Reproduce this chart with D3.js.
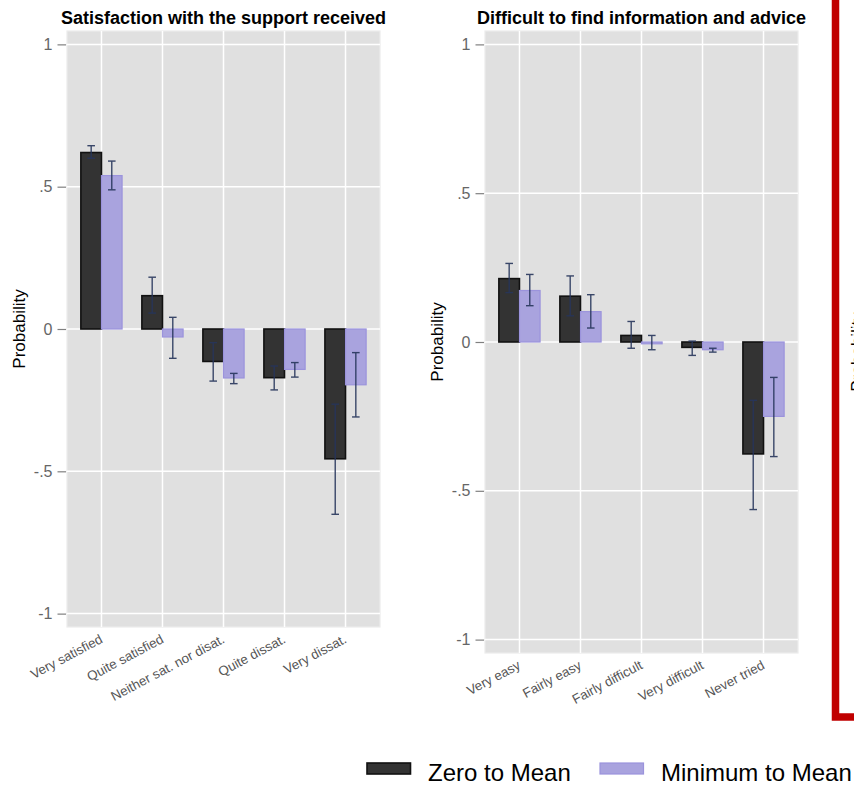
<!DOCTYPE html>
<html>
<head>
<meta charset="utf-8">
<script src="https://cdn.jsdelivr.net/npm/d3@7"></script>
<style>
  html, body { margin: 0; padding: 0; background: #ffffff; }
  svg { display: block; font-family: "Liberation Sans", Arial, Helvetica, sans-serif; }
</style>
</head>
<body>
<svg id="chart" width="854" height="787"></svg>
<script>
// ---------- Data ----------
const seriesNames = ["Zero to Mean", "Minimum to Mean"];
const yTickValues = [-1, -0.5, 0, 0.5, 1];
const yTickLabels = ["-1", "-.5", "0", ".5", "1"];

// Panel 1: Satisfaction with the support received
const titleSat = "Satisfaction with the support received";
const categoriesSat = ["Very satisfied", "Quite satisfied", "Neither sat. nor disat.", "Quite dissat.", "Very dissat."];
const zeroSat   = [0.620, 0.117, -0.114, -0.171, -0.456];
const zeroSatLo = [0.600, 0.056, -0.183, -0.214, -0.651];
const zeroSatHi = [0.644, 0.182, -0.048, -0.130, -0.264];
const minSat    = [0.539, -0.028, -0.172, -0.142, -0.196];
const minSatLo  = [0.489, -0.103, -0.192, -0.169, -0.309];
const minSatHi  = [0.590, 0.041, -0.156, -0.118, -0.083];

// Panel 2: Difficult to find information and advice
const titleInfo = "Difficult to find information and advice";
const categoriesInfo = ["Very easy", "Fairly easy", "Fairly difficult", "Very difficult", "Never tried"];
const zeroInfo   = [0.213, 0.154, 0.022, -0.018, -0.376];
const zeroInfoLo = [0.166, 0.088, -0.021, -0.045, -0.563];
const zeroInfoHi = [0.264, 0.222, 0.069, 0.003, -0.196];
const minInfo    = [0.173, 0.102, -0.006, -0.026, -0.250];
const minInfoLo  = [0.122, 0.047, -0.026, -0.034, -0.385];
const minInfoHi  = [0.227, 0.159, 0.022, -0.021, -0.119];

// ---------- Styles ----------
const fills   = ["#333333", "#a9a3de"];
const strokes = ["#111111", "#9b93dc"];
const errColor = "#27365c";

const svg = d3.select("#chart");
svg.append("rect").attr("width", 854).attr("height", 787).attr("fill", "#ffffff");

function panel(opts) {
  const { left, right, top, bottom, domainPad, title, cats, zero, zeroLo, zeroHi, mn, mnLo, mnHi } = opts;
  const g = svg.append("g");

  const x = d3.scalePoint().domain(cats).range([left, right]).padding(0.565);
  const xs = d3.scaleBand().domain(seriesNames).range([-20.6, 20.6]).padding(0);
  const y = d3.scaleLinear().domain([-domainPad, domainPad]).range([bottom, top]);

  // background
  g.append("rect")
    .attr("x", left).attr("y", top)
    .attr("width", right - left).attr("height", bottom - top)
    .attr("fill", "#e0e0e0").attr("stroke", "#ececec").attr("stroke-width", 1.2);

  // grid
  g.selectAll(".hg").data(yTickValues).enter().append("line")
    .attr("x1", left).attr("x2", right)
    .attr("y1", d => y(d)).attr("y2", d => y(d))
    .attr("stroke", "#ffffff").attr("stroke-width", 1.5);
  g.selectAll(".vg").data(cats).enter().append("line")
    .attr("x1", d => x(d)).attr("x2", d => x(d))
    .attr("y1", top).attr("y2", bottom)
    .attr("stroke", "#ffffff").attr("stroke-width", 1.5);

  // y axis
  const yAxis = d3.axisLeft(y).tickValues(yTickValues)
    .tickFormat((d, i) => yTickLabels[i]).tickSizeInner(8.5).tickSizeOuter(0).tickPadding(5);
  const ya = g.append("g").attr("transform", `translate(${left - 1},0)`).call(yAxis);
  ya.select(".domain").remove();
  ya.selectAll(".tick line").attr("stroke", "#808080").attr("stroke-width", 1.2);
  ya.selectAll(".tick text").attr("fill", "#666666").style("font-size", "16px")
    .style("font-family", "'Liberation Sans', Arial, sans-serif");

  // y label
  g.append("text")
    .attr("transform", `translate(${left - 42},${(top + bottom) / 2}) rotate(-90)`)
    .attr("text-anchor", "middle")
    .style("font-size", "17px").attr("fill", "#000")
    .text("Probability");

  // title
  g.append("text")
    .attr("x", (left + right) / 2).attr("y", 24)
    .attr("text-anchor", "middle")
    .style("font-size", "18px").style("font-weight", "bold").attr("fill", "#000")
    .text(title);

  // x labels
  g.selectAll(".xl").data(cats).enter().append("text")
    .attr("transform", d => `translate(${x(d) + 2},${bottom + 15}) rotate(-28)`)
    .attr("text-anchor", "end")
    .style("font-size", "13.3px").attr("fill", "#555555")
    .text(d => d);

  // bars
  const series = [
    { name: seriesNames[0], v: zero, lo: zeroLo, hi: zeroHi },
    { name: seriesNames[1], v: mn, lo: mnLo, hi: mnHi }
  ];
  series.forEach((s, si) => {
    g.selectAll(".bar" + si).data(cats).enter().append("rect")
      .attr("x", d => x(d) + xs(s.name))
      .attr("width", xs.bandwidth())
      .attr("y", (d, i) => Math.min(y(s.v[i]), y(0)))
      .attr("height", (d, i) => Math.abs(y(s.v[i]) - y(0)))
      .attr("fill", fills[si]).attr("stroke", strokes[si])
      .attr("stroke-width", si === 0 ? 1.6 : 1.2);
  });
  // error bars
  series.forEach((s, si) => {
    const eg = g.append("g").attr("stroke", errColor).attr("stroke-width", 1.4).attr("opacity", 0.9);
    cats.forEach((c, i) => {
      const cx = x(c) + xs(s.name) + xs.bandwidth() / 2;
      eg.append("line").attr("x1", cx).attr("x2", cx).attr("y1", y(s.lo[i])).attr("y2", y(s.hi[i]));
      eg.append("line").attr("x1", cx - 3.8).attr("x2", cx + 3.8).attr("y1", y(s.lo[i])).attr("y2", y(s.lo[i]));
      eg.append("line").attr("x1", cx - 3.8).attr("x2", cx + 3.8).attr("y1", y(s.hi[i])).attr("y2", y(s.hi[i]));
    });
  });
}

panel({ left: 67, right: 380, top: 31, bottom: 627, domainPad: 1.047, title: titleSat,
  cats: categoriesSat, zero: zeroSat, zeroLo: zeroSatLo, zeroHi: zeroSatHi, mn: minSat, mnLo: minSatLo, mnHi: minSatHi });
panel({ left: 485, right: 798, top: 31, bottom: 653, domainPad: 1.045, title: titleInfo,
  cats: categoriesInfo, zero: zeroInfo, zeroLo: zeroInfoLo, zeroHi: zeroInfoHi, mn: minInfo, mnLo: minInfoLo, mnHi: minInfoHi });

// partial third panel (cropped at the right edge, as in the reference)
svg.append("path").attr("d", "M835.5,-5 V717 H870")
  .attr("fill", "none").attr("stroke", "#c00000").attr("stroke-width", 7.5).attr("stroke-linejoin", "miter");
svg.append("text")
  .attr("transform", "translate(863,352) rotate(-90)")
  .attr("text-anchor", "middle").style("font-size", "17px").attr("fill", "#000")
  .text("Probability");

// legend
const legend = svg.append("g");
const legendX = [367, 600];
seriesNames.forEach((n, i) => {
  legend.append("rect").attr("x", legendX[i]).attr("y", 763).attr("width", 43.5).attr("height", 11)
    .attr("fill", fills[i]).attr("stroke", strokes[i]).attr("stroke-width", i === 0 ? 1.6 : 1.2);
  legend.append("text").attr("x", legendX[i] + 61).attr("y", 781)
    .style("font-size", "24px").attr("fill", "#000").text(n);
});
</script>
</body>
</html>
